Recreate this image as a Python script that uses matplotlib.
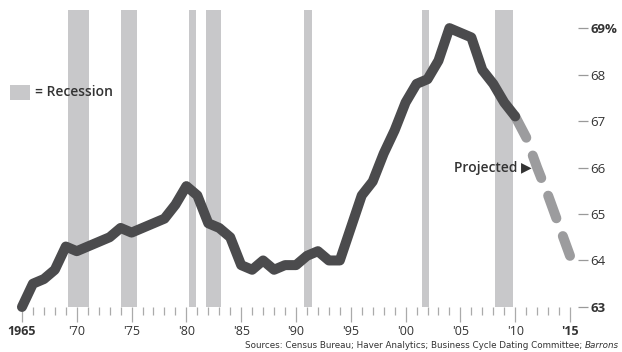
import numpy as np
import matplotlib
matplotlib.use("Agg")
import matplotlib.pyplot as plt
from matplotlib.patches import Rectangle

# homeownership rate, %, 1965-2010 actual and 2010-2015 projected
years = list(range(1965, 2011))
rate = [63.0, 63.5, 63.6, 63.8, 64.3, 64.2, 64.3, 64.4, 64.5, 64.7,
        64.6, 64.7, 64.8, 64.9, 65.2, 65.6, 65.4, 64.8, 64.7, 64.5,
        63.9, 63.8, 64.0, 63.8, 63.9, 63.9, 64.1, 64.2, 64.0, 64.0,
        64.7, 65.4, 65.7, 66.3, 66.8, 67.4, 67.8, 67.9, 68.3, 69.0,
        68.9, 68.8, 68.1, 67.8, 67.4, 67.1]
proj_years = [2010, 2011, 2012, 2013, 2014, 2015]
proj_rate = [67.1, 66.65, 66.0, 65.4, 64.75, 64.1]

# recession periods (start, end)
recessions = [(1969.2, 1971.1), (1974.0, 1975.5), (1980.2, 1980.9),
              (1981.8, 1983.2), (1990.7, 1991.5), (2001.5, 2002.1),
              (2008.2, 2009.8)]

ytick_vals = [63, 64, 65, 66, 67, 68, 69]
ytick_text = ["63", "64", "65", "66", "67", "68", "69%"]
xtick_vals = [1965, 1970, 1975, 1980, 1985, 1990, 1995, 2000, 2005, 2010, 2015]
xtick_text = ["1965", "'70", "'75", "'80", "'85", "'90", "'95", "'00", "'05", "'10", "'15"]

dark = "#4b4b4d"
light = "#9c9c9e"
bar_c = "#c8c8ca"
txt = "#333333"
font = ["Open Sans", "DejaVu Sans"]

fig = plt.figure(figsize=(6.22, 3.52), dpi=100)
ax = fig.add_axes([11 / 622, 0.128, 567 / 622, 0.8436])
ax.set_xlim(1964.0, 2015.73)
ax.set_ylim(63.0, 69.39)

for s, e in recessions:
    ax.axvspan(s, e, color=bar_c, lw=0, zorder=1)

ax.plot(years, rate, color=dark, lw=7.2, solid_capstyle="round",
        solid_joinstyle="round", zorder=4, clip_on=False)
ax.plot(proj_years, proj_rate, color=light, lw=7.2, dash_capstyle="round",
        dashes=(2.4, 1.9), zorder=3, clip_on=False)

for sp in ax.spines.values():
    sp.set_visible(False)

# x ticks: every year minor, every 5 years major
ax.set_xticks(xtick_vals)
ax.set_xticks(range(1965, 2016), minor=True)
ax.set_xticklabels(xtick_text)
ax.tick_params(axis="x", which="major", length=11, width=0.9, color="#aaaaaa",
               pad=2, labelsize=9, labelcolor=txt)
ax.tick_params(axis="x", which="minor", length=6, width=0.9, color="#aaaaaa")
for i, lab in enumerate(ax.get_xticklabels()):
    lab.set_family(font)
    if i in (0, len(xtick_text) - 1):
        lab.set_fontweight("bold")

# y ticks on the right
ax.yaxis.tick_right()
ax.set_yticks(ytick_vals)
ax.set_yticklabels(ytick_text)
ax.tick_params(axis="y", length=7, width=0.9, color="#999999", pad=2,
               labelsize=9.5, labelcolor=txt)
for i, lab in enumerate(ax.get_yticklabels()):
    lab.set_family(font)
    if i in (0, len(ytick_text) - 1):
        lab.set_fontweight("bold")

# legend for the shaded bars
fig.patches.append(Rectangle((10 / 622, 1 - 100 / 352), 20 / 622, 15 / 352,
                             transform=fig.transFigure, color=bar_c, lw=0))
fig.text(35 / 622, 1 - 92 / 352, "= Recession", fontsize=10, fontweight="semibold",
         color=txt, va="center", family=font)

ax.text(2011.5, 66.0, "Projected \u25b6", fontsize=10, fontweight="semibold",
        color=txt, ha="right", va="center", family=font, zorder=5)

# sources line
src_b = fig.text(619 / 622, 1 - 345 / 352, "Barrons", fontsize=6.3, style="italic",
                 color=txt, ha="right", va="center",
                 family=["Liberation Sans Narrow", "DejaVu Sans"])
ax.annotate("Sources: Census Bureau; Haver Analytics; Business Cycle Dating Committee; ",
            xy=(0, 0.5), xycoords=src_b, ha="right", va="center", fontsize=6.3,
            color=txt, family=["Liberation Sans Narrow", "DejaVu Sans"],
            annotation_clip=False)

fig.savefig("out.png", dpi=100)
